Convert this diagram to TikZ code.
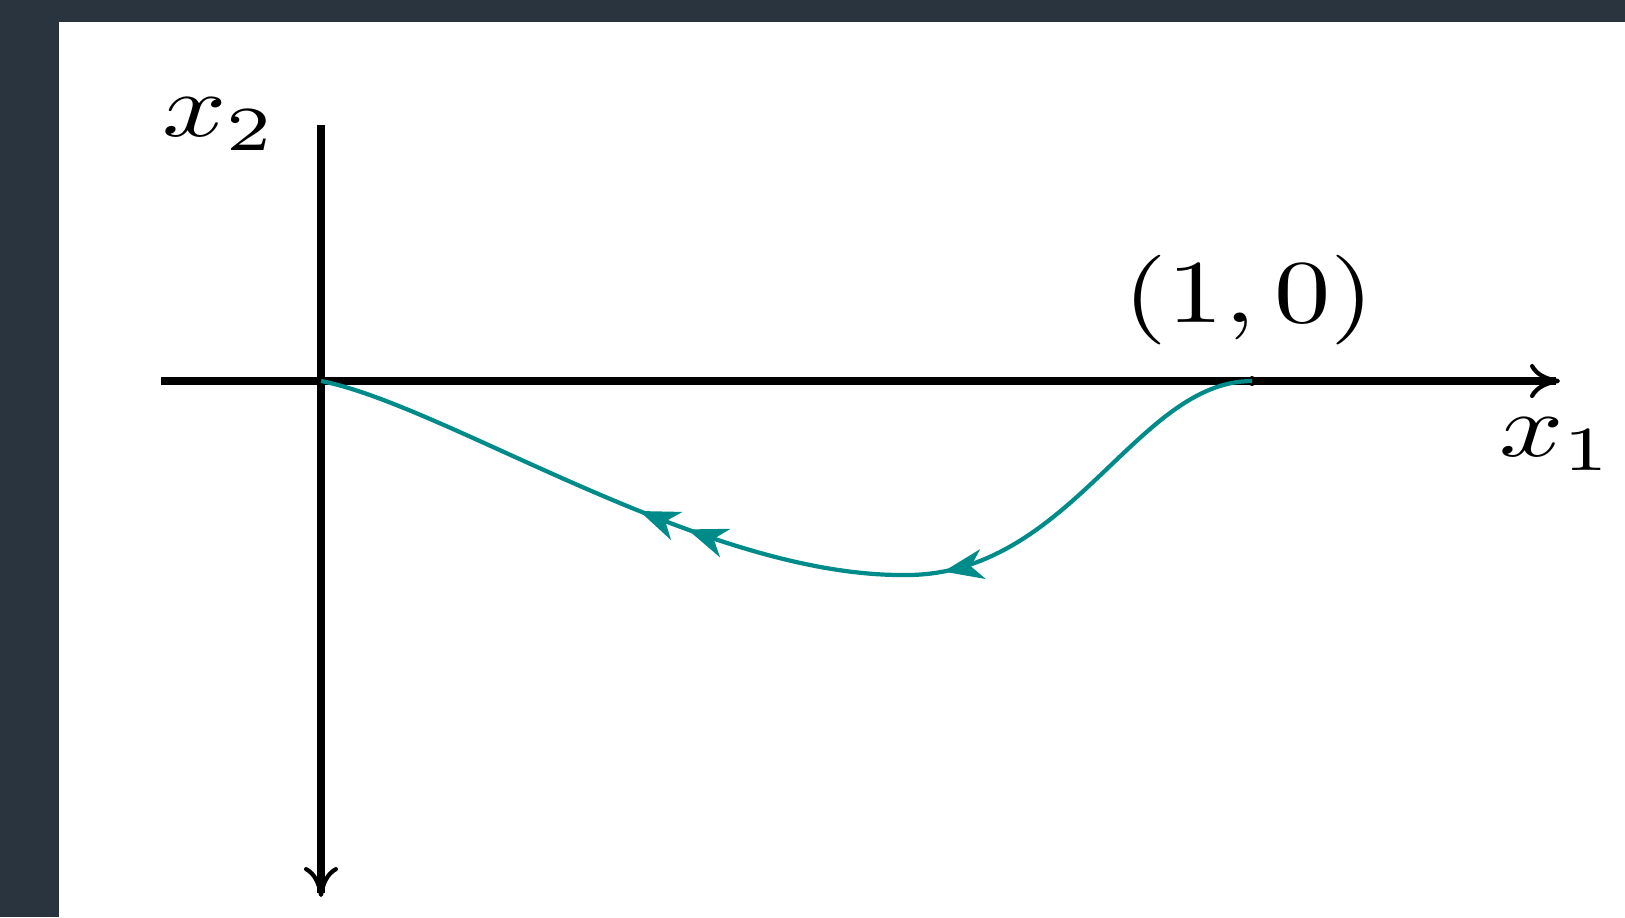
\documentclass[tikz,border=0pt]{standalone}
\usetikzlibrary{arrows.meta,decorations.markings}
\definecolor{pagebg}{RGB}{42,52,63}
\definecolor{orbit}{RGB}{0,139,139}
\tikzset{
  axis/.style={line width=2.4pt,-{To[length=0.3cm,width=0.34cm,line width=1.2pt]}},
  lbl/.style={xscale=3.2,yscale=2.55},
  orbittip/.style={}
}
\begin{document}
\begin{tikzpicture}[x=0.01cm,y=-0.01cm]
\fill[pagebg] (0,0) rectangle (1625,917);
\fill[white] (59,22) rectangle (1625,917);
\useasboundingbox (0,0) rectangle (1625,917);
\coordinate (o) at (321,381);
\coordinate (p) at (1252,381);
\coordinate (m) at (902,575);
\coordinate (xl) at (161,381);
\coordinate (xr) at (1560,381);
\coordinate (yt) at (321,125);
\coordinate (yb) at (321,897);
\draw[axis] (xl) -- (xr);
\draw[axis] (yt) -- (yb);
\node[lbl] (xone) at (1557,444) {$x_1$};
\node[lbl] (xtwo) at (220,124) {$x_2$};
\node[lbl] (pl) at (1249,300) {$(1,0)$};
\fill (p) circle (5);
\fill (o) circle (5);
% trajectory from (1,0) back to the origin
\draw[orbit, line width=1.2pt,
  decoration={markings,
    mark=at position 0.36 with {\arrow{Stealth[length=0.4cm,width=0.3cm,inset=0.12cm]}},
    mark=at position 0.615 with {\arrow{Stealth[length=0.4cm,width=0.3cm,inset=0.12cm]}},
    mark=at position 0.665 with {\arrow{Stealth[length=0.4cm,width=0.3cm,inset=0.12cm]}}},
  postaction={decorate}]
  (p) .. controls (1135,381) and (1070,578) .. (m)
      .. controls (700,575) and (445,405) .. (o);
\end{tikzpicture}
\end{document}
